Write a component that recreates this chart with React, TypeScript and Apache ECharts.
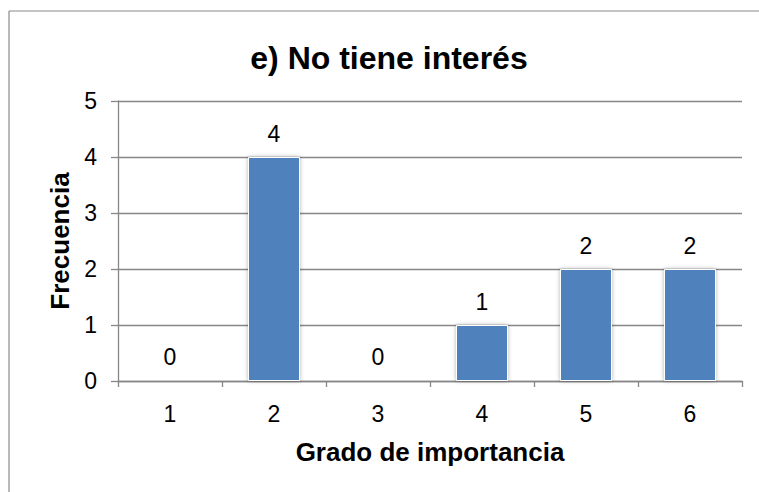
import React, { useEffect, useRef } from "react";
import * as echarts from "echarts";

// Grado de importancia (categories) and how many answers each received
const categories = ["1", "2", "3", "4", "5", "6"];
const frequencies = [0, 4, 0, 1, 2, 2];
const yMin = 0;
const yMax = 5;
const yStep = 1;

const titleText = "e) No tiene interés";
const xTitle = "Grado de importancia";
const yTitle = "Frecuencia";

const W = 759;
const H = 492;

const FONT = '"Liberation Sans", Arial, Helvetica, sans-serif';
const AXIS_GRAY = "#878787";
const FRAME_GRAY = "#8a8a8a";

export default function App() {
  const ref = useRef<HTMLDivElement>(null);

  useEffect(() => {
    document.body.style.margin = "0";
    document.body.style.overflow = "hidden";
    if (!ref.current) return;
    const chart = echarts.init(ref.current, undefined, { renderer: "svg" });

    chart.setOption({
      animation: false,
      textStyle: { fontFamily: FONT, color: "#000" },
      title: {
        text: titleText,
        left: 384,
        top: 37,
        textAlign: "center",
        textStyle: {
          fontFamily: FONT,
          fontSize: 32,
          fontWeight: "bold",
          color: "#000",
        },
      },
      grid: {
        left: 118,
        right: W - 742,
        top: 101,
        bottom: H - 381,
        containLabel: false,
      },
      xAxis: {
        type: "category",
        data: categories,
        name: xTitle,
        nameLocation: "middle",
        nameGap: 58,
        nameTextStyle: {
          fontFamily: FONT,
          fontSize: 26,
          fontWeight: "bold",
          color: "#000",
        },
        axisLine: { show: true, lineStyle: { color: AXIS_GRAY, width: 1.3 } },
        axisTick: {
          show: true,
          inside: false,
          length: 6,
          alignWithLabel: false,
          interval: 0,
          lineStyle: { color: AXIS_GRAY, width: 1.3 },
        },
        axisLabel: {
          margin: 21,
          fontFamily: FONT,
          fontSize: 23,
          color: "#000",
        },
        splitLine: { show: false },
      },
      yAxis: {
        type: "value",
        min: yMin,
        max: yMax,
        interval: yStep,
        name: yTitle,
        nameLocation: "middle",
        nameRotate: 90,
        nameGap: 43,
        nameTextStyle: {
          fontFamily: FONT,
          fontSize: 26,
          fontWeight: "bold",
          color: "#000",
        },
        axisLine: { show: true, lineStyle: { color: AXIS_GRAY, width: 1.3 } },
        axisTick: {
          show: true,
          inside: false,
          length: 7,
          lineStyle: { color: AXIS_GRAY, width: 1.3 },
        },
        axisLabel: {
          margin: 21,
          fontFamily: FONT,
          fontSize: 23,
          color: "#000",
        },
        splitLine: { show: true, lineStyle: { color: AXIS_GRAY, width: 1.3 } },
      },
      series: [
        {
          type: "bar",
          data: frequencies,
          barWidth: "50%",
          itemStyle: {
            color: "#4F81BD",
            borderColor: "#ffffff",
            borderWidth: 1,
            shadowBlur: 4,
            shadowColor: "rgba(0,0,0,0.3)",
          },
          label: {
            show: true,
            position: "top",
            distance: 12,
            fontFamily: FONT,
            fontSize: 23,
            color: "#000",
          },
        },
      ],
      // chart frame: only its top and left edges fall inside the view
      graphic: [
        {
          type: "line",
          silent: true,
          shape: { x1: 9, y1: 11, x2: W, y2: 11 },
          style: { stroke: FRAME_GRAY, lineWidth: 1.2 },
        },
        {
          type: "line",
          silent: true,
          shape: { x1: 9, y1: 11, x2: 9, y2: H },
          style: { stroke: FRAME_GRAY, lineWidth: 1.2 },
        },
      ],
    });

    return () => chart.dispose();
  }, []);

  return (
    <div
      ref={ref}
      style={{ position: "absolute", left: 0, top: 0, width: W, height: H }}
    />
  );
}
